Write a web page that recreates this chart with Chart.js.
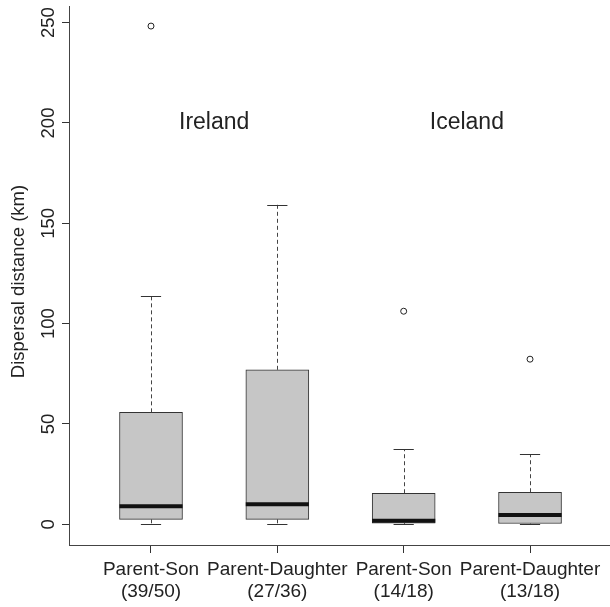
<!DOCTYPE html>
<html>
<head>
<meta charset="utf-8">
<title>Dispersal distance</title>
<script src="https://cdn.jsdelivr.net/npm/chart.js@4"></script>
<style>
  html, body { margin: 0; padding: 0; background: #fff; }
  #wrap { width: 610px; height: 607px; }
</style>
</head>
<body>
<div id="wrap"><canvas id="boxChart" width="610" height="607"></canvas></div>
<script>
// Groups on the x axis (two-line labels)
const groups = ['Parent-Son', 'Parent-Daughter', 'Parent-Son', 'Parent-Daughter'];
const counts = ['(39/50)', '(27/36)', '(14/18)', '(13/18)'];
const positions = [1, 2, 3, 4];

// Box plot statistics (km)
const lowerWhisker = [0, 0, 0, 0];
const q1 = [2.5, 2.5, 0.6, 0.4];
const median = [9, 10, 1.8, 4.6];
const q3 = [55.8, 77, 15.5, 16];
const upperWhisker = [113.6, 159.3, 37.4, 35];
const outliers = [248.3, null, 106.2, 82.3];

// Region labels inside the plot
const regionLabels = ['Ireland', 'Iceland'];
const regionX = [1.5, 3.5];
const regionY = 200;

const yTicks = [0, 50, 100, 150, 200, 250];
const yTitle = 'Dispersal distance (km)';

const FONT = "'Liberation Sans', Arial, Helvetica, sans-serif";
const INK = '#222';

// whiskers, staples, medians, labels
const boxExtras = {
  id: 'boxExtras',
  afterDatasetsDraw(chart) {
    const { ctx, scales: { x, y } } = chart;
    const halfBox = 0.25, halfCap = 0.08;
    ctx.save();
    positions.forEach((p, i) => {
      const cx = Math.round(x.getPixelForValue(p)) + 0.5;
      // dashed whiskers
      ctx.strokeStyle = '#444';
      ctx.lineWidth = 1;
      ctx.setLineDash([4, 3]);
      ctx.beginPath();
      ctx.moveTo(cx, y.getPixelForValue(q3[i]));
      ctx.lineTo(cx, y.getPixelForValue(upperWhisker[i]));
      ctx.moveTo(cx, y.getPixelForValue(q1[i]));
      ctx.lineTo(cx, y.getPixelForValue(lowerWhisker[i]));
      ctx.stroke();
      // staples
      ctx.setLineDash([]);
      ctx.strokeStyle = '#333';
      ctx.beginPath();
      [upperWhisker[i], lowerWhisker[i]].forEach(v => {
        const py = Math.round(y.getPixelForValue(v)) + 0.5;
        ctx.moveTo(x.getPixelForValue(p - halfCap), py);
        ctx.lineTo(x.getPixelForValue(p + halfCap), py);
      });
      ctx.stroke();
      // median
      ctx.strokeStyle = '#111';
      ctx.lineWidth = 4;
      ctx.beginPath();
      const my = y.getPixelForValue(median[i]);
      ctx.moveTo(x.getPixelForValue(p - halfBox), my);
      ctx.lineTo(x.getPixelForValue(p + halfBox), my);
      ctx.stroke();
    });

    // Ireland / Iceland
    ctx.fillStyle = INK;
    ctx.font = '23px ' + FONT;
    ctx.textAlign = 'center';
    ctx.textBaseline = 'middle';
    regionLabels.forEach((t, i) => {
      ctx.fillText(t, x.getPixelForValue(regionX[i]), y.getPixelForValue(regionY));
    });

    // rotated y tick labels
    ctx.font = '18.5px ' + FONT;
    yTicks.forEach(v => {
      ctx.save();
      ctx.translate(49, y.getPixelForValue(v));
      ctx.rotate(-Math.PI / 2);
      ctx.fillText(String(v), 0, 0);
      ctx.restore();
    });

    // y axis title
    ctx.font = '18.5px ' + FONT;
    ctx.save();
    ctx.translate(19, y.getPixelForValue(121));
    ctx.rotate(-Math.PI / 2);
    ctx.fillText(yTitle, 0, 0);
    ctx.restore();
    ctx.restore();
  }
};

new Chart(document.getElementById('boxChart').getContext('2d'), {
  type: 'bar',
  data: {
    datasets: [
      {
        type: 'bar',
        label: 'box',
        data: positions.map((p, i) => ({ x: p, y: [q1[i], q3[i]] })),
        backgroundColor: '#c6c6c6',
        borderColor: '#333',
        borderWidth: 1,
        borderSkipped: false,
        barThickness: 63,
        order: 2
      },
      {
        type: 'scatter',
        label: 'outliers',
        data: positions.map((p, i) => ({ x: p, y: outliers[i] })).filter(d => d.y !== null),
        pointStyle: 'circle',
        pointRadius: 3,
        backgroundColor: '#fff',
        borderColor: '#222',
        borderWidth: 1,
        order: 1
      }
    ]
  },
  options: {
    responsive: false,
    animation: false,
    layout: { autoPadding: false, padding: { top: 6, right: 0, left: 0, bottom: 0 } },
    plugins: {
      legend: { display: false },
      tooltip: { enabled: false },
      title: { display: false }
    },
    scales: {
      x: {
        type: 'linear',
        offset: false,
        min: 0.351,
        max: 4.633,
        afterBuildTicks: scale => { scale.ticks = positions.map(v => ({ value: v })); },
        afterFit: scale => { scale.height = 62; },
        grid: { offset: false, drawOnChartArea: false, drawTicks: true, tickLength: 8, color: '#333' },
        border: { display: true, color: '#444', width: 1 },
        ticks: {
          autoSkip: false,
          maxRotation: 0,
          padding: 5,
          color: INK,
          font: { family: FONT, size: 19, lineHeight: 1.2 },
          callback: v => [groups[v - 1], counts[v - 1]]
        }
      },
      y: {
        type: 'linear',
        min: -10.3,
        max: 258.3,
        afterBuildTicks: scale => { scale.ticks = yTicks.map(v => ({ value: v })); },
        afterFit: scale => { scale.width = 69; },
        grid: { drawOnChartArea: false, drawTicks: true, tickLength: 7, color: '#333' },
        border: { display: true, color: '#444', width: 1 },
        ticks: { display: false }
      }
    }
  },
  plugins: [boxExtras]
});
</script>
</body>
</html>
